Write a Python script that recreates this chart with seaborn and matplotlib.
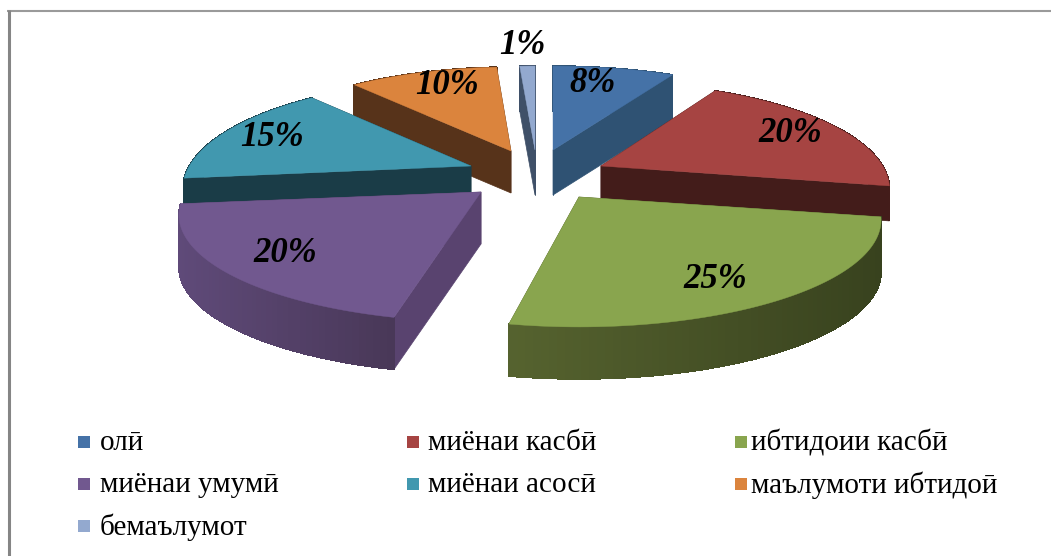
import numpy as np
import matplotlib
matplotlib.use('Agg')
import matplotlib.pyplot as plt
from matplotlib.colors import to_rgb
import seaborn as sns

# data
labels = ['олӣ', 'миёнаи касбӣ', 'ибтидоии касбӣ', 'миёнаи умумӣ', 'миёнаи асосӣ', 'маълумоти ибтидоӣ', 'бемаълумот']
values = [8.0, 20.0, 25.0, 20.2, 15.4, 10.4, 1.0]
pct_labels = ['8%', '20%', '25%', '20%', '15%', '10%', '1%']

# slice colours
top_colors = ['#4572a7', '#a64442', '#89a54e', '#71588f', '#4198af', '#db843d', '#93a9cf']
cut_colors = ['#2f5273', '#431c1a', '#56632f', '#59436f', '#1a3c47', '#57331a', '#3f5068']
wall_left = ['#2f5273', '#431c1a', '#56632f', '#5f4a79', '#1a3c47', '#57331a', '#3f5068']
wall_right = ['#2f5273', '#431c1a', '#38421e', '#493858', '#1a3c47', '#57331a', '#3f5068']

# layout, in pixels
center_x, center_y = 530, 165
explode_x = [23, 71, 49, -49, -59, -19, 5]
explode_y = [-15, 1, 32, 27, 1, -14, -15]
depth = [45, 35, 52, 52, 28, 42, 45]
stretch_x = [1.0, 0.955, 1.0, 1.0, 0.955, 0.94, 1.0]
stretch_y = [1.0, 1.0, 1.0, 1.0, 1.03, 1.0, 1.0]
trim_start = [0, 0, 0, 2.7, 0, 0, 0]  # degrees, the picture is warped a bit
rx, ry, persp = 295, 102, 0.215
label_x = [593, 790, 715, 285, 272, 447, 522]
label_y = [84, 133, 279, 253, 138, 86, 45]
draw_order = [0, 6, 5, 4, 1, 2, 3]


def project(theta):
	# tilted circle with a little perspective, theta clockwise from top
	w = 1 + persp * np.cos(theta)
	return rx * np.sin(theta) / w, -ry * np.cos(theta) / w


sns.set_theme(style='white')
plt.rcParams['font.family'] = ['Liberation Serif', 'DejaVu Serif']

fig, ax = plt.subplots(figsize=(10.51, 5.56), dpi=100)
ax.set_position([0, 0, 1, 1])
ax.set_xlim(0, 1051)
ax.set_ylim(556, 0)
ax.axis('off')

# chart frame
ax.plot([7, 1051], [11, 11], color='#9a9a9a', lw=1.5, solid_capstyle='butt')
ax.plot([8.5, 8.5], [10, 556], color='#858585', lw=2.2, solid_capstyle='butt')

edges = np.cumsum([0] + values) / sum(values) * 2 * np.pi

for i in draw_order:
	ax0 = center_x + explode_x[i]
	ay0 = center_y + explode_y[i]
	d = depth[i]
	theta = np.linspace(edges[i] + np.radians(trim_start[i]), edges[i + 1], max(int(values[i] * 3), 4))
	px, py = project(theta)
	px = px * stretch_x[i] + ax0
	py = py * stretch_y[i] + ay0

	# cut faces
	for k in (0, -1):
		ax.fill([ax0, px[k], px[k], ax0], [ay0, py[k], py[k] + d, ay0 + d],
			color=cut_colors[i], lw=0.5)

	# outer wall, shaded strip by strip
	lo, hi = px.min(), px.max()
	for k in range(len(px) - 1):
		t = np.clip((px[k] - lo) / (hi - lo), 0, 1)
		c = np.array(to_rgb(wall_left[i])) * (1 - t) + np.array(to_rgb(wall_right[i])) * t
		ax.fill([px[k], px[k + 1], px[k + 1], px[k]], [py[k], py[k + 1], py[k + 1] + d, py[k] + d],
			color=c, lw=0.5, antialiased=False)

	# top
	ax.fill(np.r_[ax0, px], np.r_[ay0, py], color=top_colors[i], lw=0.3)

for i in range(len(values)):
	ax.text(label_x[i], label_y[i], pct_labels[i], fontsize=25, fontweight='bold', fontstyle='italic',
		color='black', ha='center', va='center')

# legend, filled row by row
swatch_x = [84, 413, 741]
text_x = [100, 428, 751]
leg_y = [442, 484, 526]
for i, name in enumerate(labels):
	row, col = divmod(i, 3)
	ax.scatter(swatch_x[col], leg_y[row], marker='s', s=80, color=top_colors[i], linewidths=0)
	ax.text(text_x[col], leg_y[row] + 1, name, fontsize=21, color='black', ha='left', va='center')

fig.savefig('out.png', dpi=100)
